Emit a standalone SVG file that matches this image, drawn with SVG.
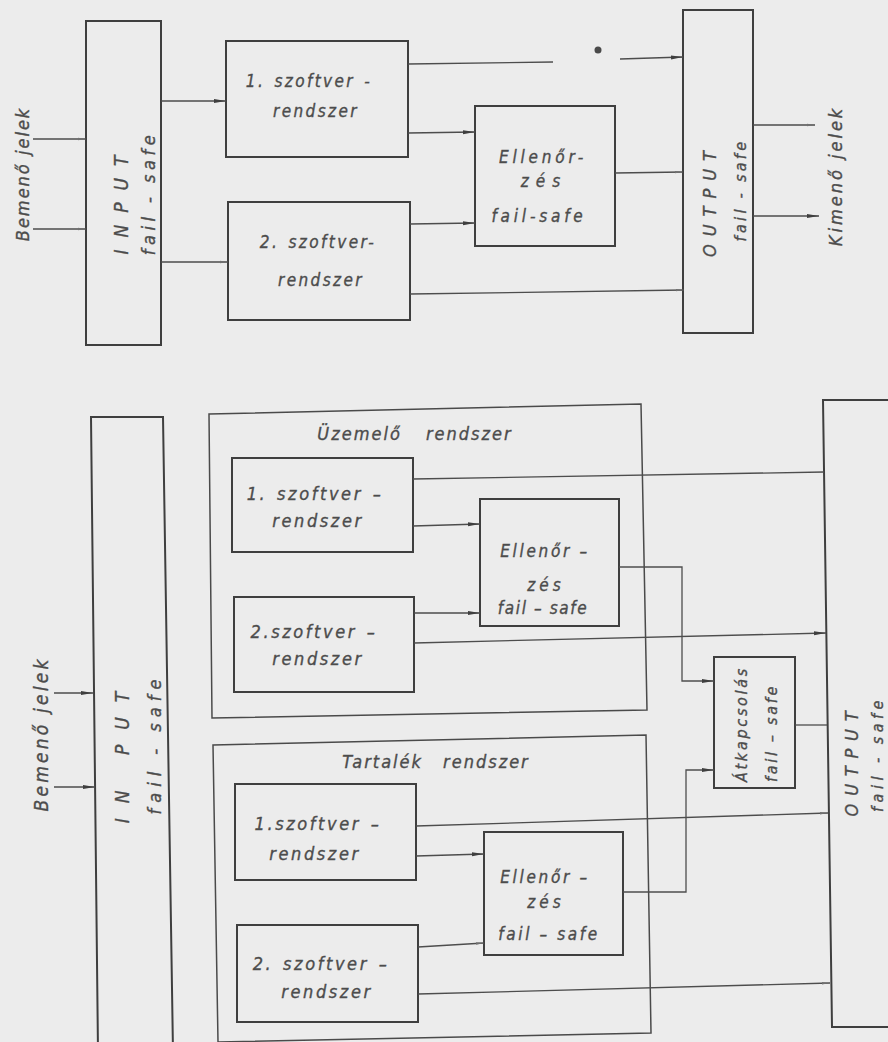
<svg xmlns="http://www.w3.org/2000/svg" width="888" height="1042" viewBox="0 0 888 1042">
<defs>
<style>
.bg{fill:#ececec}
.box{fill:none;stroke:#3f3f3f;stroke-width:2}
.frame{fill:none;stroke:#4a4a4a;stroke-width:1.5}
.ln{fill:none;stroke:#4d4d4d;stroke-width:1.3}
.a{marker-end:url(#arr)}
.k{marker-end:url(#tick)}
text{font-family:"DejaVu Sans Condensed","DejaVu Sans",sans-serif;font-style:italic;fill:#4c4c4c;stroke:#4c4c4c;stroke-width:0.35;text-anchor:middle}
.sw{font-size:17px;letter-spacing:2.4px;word-spacing:2px}
.swb{font-size:18px;letter-spacing:2.6px;word-spacing:2px}
.ck{font-size:17px;letter-spacing:3.8px}
.ckb{font-size:17px;letter-spacing:2.7px}
.rot{font-size:18px}
.hdr{font-size:18px;letter-spacing:2px}
</style>
<marker id="arr" viewBox="0 0 12 6" markerWidth="12" markerHeight="6" refX="12" refY="3" orient="auto" markerUnits="userSpaceOnUse">
<path d="M0,1 L12,3 L0,5 z" fill="#3f3f3f"/>
</marker>
<marker id="tick" viewBox="0 0 8 4" markerWidth="8" markerHeight="4" refX="8" refY="2" orient="auto" markerUnits="userSpaceOnUse">
<path d="M0,0.8 L8,2 L0,3.2 z" fill="#707070"/>
</marker>
</defs>
<rect class="bg" x="0" y="0" width="888" height="1042"/>

<!-- ===== TOP DIAGRAM ===== -->
<g id="top-input">
<rect class="box" x="86" y="21" width="75" height="324"/>
<text class="rot" style="font-size:19px;letter-spacing:12px" transform="translate(128 199) rotate(-90)">INPUT</text>
<text class="rot" style="letter-spacing:4.5px" transform="translate(155 193) rotate(-90)">fail - safe</text>
</g>
<g id="top-in-label">
<text class="rot" style="letter-spacing:2px" transform="translate(29 174) rotate(-90)">Bemenő jelek</text>
</g>
<g id="top-sw1">
<rect class="box" x="226" y="41" width="182" height="116"/>
<text class="sw" x="309" y="87">1. szoftver -</text>
<text class="sw" x="316" y="117">rendszer</text>
</g>
<g id="top-sw2">
<rect class="box" x="228" y="202" width="182" height="118"/>
<text class="sw" x="318" y="248">2. szoftver-</text>
<text class="sw" x="321" y="286">rendszer</text>
</g>
<g id="top-check">
<rect class="box" x="475" y="106" width="140" height="140"/>
<text class="ck" x="543" y="163">Ellenőr-</text>
<text class="ck" style="letter-spacing:7px" x="544" y="187">zés</text>
<text class="ck" x="539" y="222">fail-safe</text>
</g>
<g id="top-output">
<rect class="box" x="683" y="10" width="70" height="323"/>
<text class="rot" style="letter-spacing:8px" transform="translate(716 200) rotate(-90)">OUTPUT</text>
<text class="rot" style="font-size:16px;letter-spacing:3.3px" transform="translate(746 190) rotate(-90)">fail - safe</text>
</g>
<g id="top-out-label">
<text class="rot" style="letter-spacing:3px" transform="translate(842 176) rotate(-90)">Kimenő jelek</text>
</g>

<g id="top-connectors">
<line class="ln k" x1="33" y1="139" x2="86" y2="139"/>
<line class="ln k" x1="33" y1="229" x2="86" y2="229"/>
<line class="ln a" x1="161" y1="101" x2="226" y2="101"/>
<line class="ln k" x1="161" y1="262" x2="228" y2="262"/>
<line class="ln" x1="408" y1="64" x2="553" y2="62"/>
<circle cx="598" cy="50" r="3.5" fill="#4a4a4a"/>
<line class="ln a" x1="620" y1="59" x2="683" y2="57"/>
<line class="ln a" x1="408" y1="133" x2="475" y2="132"/>
<line class="ln a" x1="410" y1="224" x2="475" y2="223"/>
<line class="ln k" x1="615" y1="173" x2="683" y2="172"/>
<line class="ln k" x1="410" y1="294" x2="684" y2="290"/>
<line class="ln k" x1="753" y1="125" x2="815" y2="125"/>
<line class="ln a" x1="753" y1="216" x2="819" y2="216"/>
</g>

<!-- ===== BOTTOM DIAGRAM ===== -->
<g id="bot-input">
<polygon class="box" points="91,417 163,417 173,1052 98,1052"/>
<text class="rot" style="font-size:19px;letter-spacing:15px" transform="translate(129 750) rotate(-90)">IN PUT</text>
<text class="rot" style="letter-spacing:6px" transform="translate(161 744) rotate(-90)">fail - safe</text>
</g>
<g id="bot-in-label">
<text class="rot" style="font-size:19px;letter-spacing:3.2px" transform="translate(48 734) rotate(-90)">Bemenő jelek</text>
</g>

<g id="operating-system">
<polygon class="frame" points="209,414 641,404 647,710 212,718"/>
<text class="hdr" style="word-spacing:17px" x="415" y="440">Üzemelő rendszer</text>
</g>
<g id="op-sw1">
<rect class="box" x="232" y="458" width="181" height="94"/>
<text class="swb" x="315" y="500">1. szoftver –</text>
<text class="swb" x="318" y="527">rendszer</text>
</g>
<g id="op-sw2">
<rect class="box" x="234" y="597" width="180" height="95"/>
<text class="swb" x="314" y="638">2.szoftver –</text>
<text class="swb" x="318" y="665">rendszer</text>
</g>
<g id="op-check">
<rect class="box" x="480" y="499" width="139" height="127"/>
<text class="ckb" x="545" y="557">Ellenőr –</text>
<text class="ckb" style="letter-spacing:4px" x="546" y="591">zés</text>
<text class="ckb" style="letter-spacing:1.6px" x="543" y="614">fail – safe</text>
</g>

<g id="backup-system">
<polygon class="frame" points="213,745 646,735 651,1033 218,1042"/>
<text class="hdr" style="word-spacing:13px" x="436" y="768">Tartalék rendszer</text>
</g>
<g id="bk-sw1">
<rect class="box" x="235" y="784" width="181" height="96"/>
<text class="swb" x="318" y="830">1.szoftver –</text>
<text class="swb" x="315" y="860">rendszer</text>
</g>
<g id="bk-sw2">
<rect class="box" x="237" y="925" width="181" height="97"/>
<text class="swb" x="321" y="970">2. szoftver –</text>
<text class="swb" x="327" y="998">rendszer</text>
</g>
<g id="bk-check">
<rect class="box" x="484" y="832" width="139" height="123"/>
<text class="ckb" x="545" y="883">Ellenőr –</text>
<text class="ckb" style="letter-spacing:4px" x="546" y="908">zés</text>
<text class="ckb" style="letter-spacing:2.6px" x="549" y="940">fail – safe</text>
</g>

<g id="switchover">
<rect class="box" x="714" y="657" width="81" height="131"/>
<text class="rot" style="font-size:16px;letter-spacing:2.7px" transform="translate(747 724) rotate(-90)">Átkapcsolás</text>
<text class="rot" style="font-size:16px;letter-spacing:2.7px" transform="translate(777 733) rotate(-90)">fail – safe</text>
</g>

<g id="bot-output">
<polygon class="box" points="823,400 892,400 892,1027 832,1027"/>
<text class="rot" style="letter-spacing:7.8px" transform="translate(858 760) rotate(-90)">OUTPUT</text>
<text class="rot" style="font-size:16px;letter-spacing:4.5px" transform="translate(883 754) rotate(-90)">fail - safe</text>
</g>

<g id="bot-connectors">
<line class="ln a" x1="54" y1="693" x2="93" y2="693"/>
<line class="ln a" x1="54" y1="787" x2="95" y2="787"/>
<line class="ln" x1="413" y1="479" x2="824" y2="472"/>
<line class="ln a" x1="413" y1="526" x2="480" y2="524"/>
<line class="ln a" x1="414" y1="613" x2="480" y2="613"/>
<line class="ln a" x1="414" y1="643" x2="826" y2="633"/>
<polyline class="ln a" points="619,567 682,567 682,681 714,681"/>
<line class="ln" x1="795" y1="725" x2="827" y2="725"/>
<polyline class="ln a" points="623,892 686,892 686,770 714,770"/>
<line class="ln k" x1="416" y1="826" x2="828" y2="813"/>
<line class="ln a" x1="416" y1="856" x2="484" y2="854"/>
<line class="ln k" x1="418" y1="947" x2="484" y2="943"/>
<line class="ln k" x1="418" y1="994" x2="830" y2="983"/>
</g>
</svg>
